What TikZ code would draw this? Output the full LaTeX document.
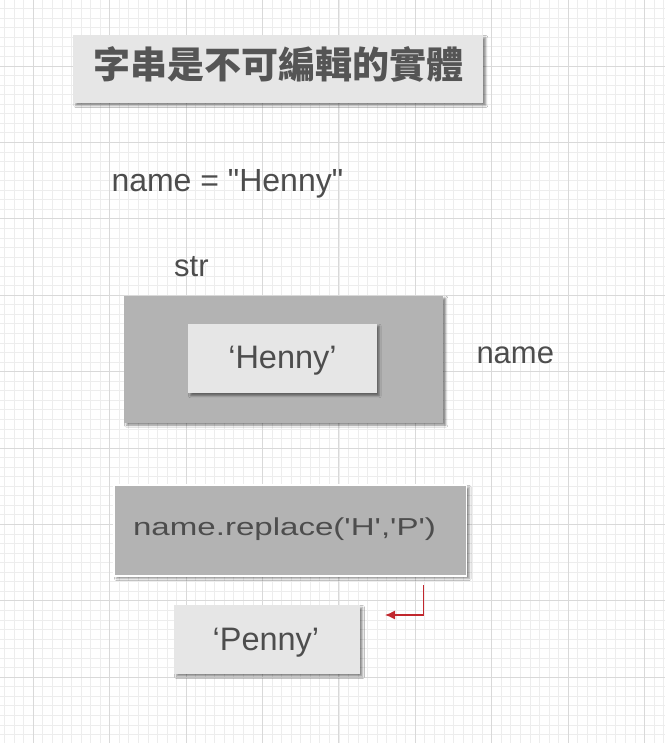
\documentclass[tikz,border=0pt]{standalone}
\usepackage{fontspec}
\usepackage{graphicx}
\setmainfont{Liberation Sans}
\newfontfamily\lat{Liberation Sans}
\newfontfamily\cjk{Noto Sans CJK TC}
\usetikzlibrary{shadows.blur,arrows.meta}
\definecolor{minorgrid}{HTML}{EDEDED}
\definecolor{majorgrid}{HTML}{D9D9D9}
\definecolor{lightbox}{HTML}{E6E6E6}
\definecolor{darkbox}{HTML}{B3B3B3}
\definecolor{txt}{HTML}{4D4D4D}
\definecolor{titletxt}{HTML}{555555}
\definecolor{arrowred}{HTML}{C1272D}
\tikzset{
  boxbase/.style={rectangle, inner sep=0pt, draw=none,
    blur shadow={shadow xshift=2.5pt, shadow yshift=-2.5pt, shadow blur radius=2pt, shadow opacity=45}},
  lightbx/.style={boxbase, fill=lightbox},
  darkbx/.style={boxbase, fill=darkbox},
  lbl/.style={inner sep=0pt, text=txt, font=\lat\fontsize{31}{36}\selectfont},
}
\begin{document}
\begin{tikzpicture}[x=1pt,y=-1pt]
\useasboundingbox (0,0) rectangle (665,743);
\fill[white] (0,0) rectangle (665,743);
% grid
\foreach \k in {-3,...,66}{
  \pgfmathsetmacro{\xx}{33.3+\k*9.55}
  \draw[minorgrid, line width=0.8pt] (\xx,0) -- (\xx,743);
}
\foreach \k in {-6,...,70}{
  \pgfmathsetmacro{\yy}{66+\k*9.55}
  \draw[minorgrid, line width=0.8pt] (0,\yy) -- (665,\yy);
}
\foreach \k in {0,...,8}{
  \pgfmathsetmacro{\xx}{33.3+\k*76.4}
  \draw[majorgrid, line width=0.9pt] (\xx,0) -- (\xx,743);
}
\foreach \k in {-1,...,9}{
  \pgfmathsetmacro{\yy}{66+\k*76.4}
  \draw[majorgrid, line width=0.9pt] (0,\yy) -- (665,\yy);
}
% title
\node[lightbx, minimum width=410pt, minimum height=68pt] (titlebox) at (278.3,69) {};
\node[inner sep=0pt, text=titletxt, font=\cjk\bfseries\fontsize{37}{41}\selectfont] (title) at (278,64) {字串是不可編輯的實體};
% assignment
\node[lbl, anchor=base west, font=\lat\fontsize{32}{36}\selectfont] (assign) at (111.3,191.7) {name = "Henny"};
\node[lbl, anchor=base west] (strlbl) at (174,276.7) {str};
% str object
\node[darkbx, minimum width=319.3pt, minimum height=127pt] (strbox) at (283.65,359.2) {};
\node[lightbx, minimum width=188.7pt, minimum height=69.6pt] (hennybox) at (282.35,358.5) {};
\node[lbl, anchor=base, font=\lat\fontsize{32.5}{36}\selectfont] (henny) at (282.5,368.3) {‘Henny’};
\node[lbl, anchor=base west] (namelbl) at (476.3,363.3) {name};
% replace
\node[darkbx, draw=white, line width=1.2pt, minimum width=352.7pt, minimum height=91pt] (replacebox) at (290.35,530.5) {};
\node[lbl, anchor=base west, font=\lat\fontsize{24.5}{28}\selectfont] (replace) at (132.9,535) {\scalebox{1.35}[1]{name.replace('H','P')}};
% penny
\node[lightbx, minimum width=186pt, minimum height=69pt] (pennybox) at (267,639.5) {};
\node[lbl, anchor=base, font=\lat\fontsize{32.5}{36}\selectfont] (penny) at (265.9,650) {‘Penny’};
% arrow
\coordinate (arrS) at (423.3,585);
\coordinate (arrE) at (385,615);
\draw[arrowred, line width=1.3pt, -{Latex[length=10pt,width=9pt]}] (arrS) |- (arrE);
\end{tikzpicture}
\end{document}
